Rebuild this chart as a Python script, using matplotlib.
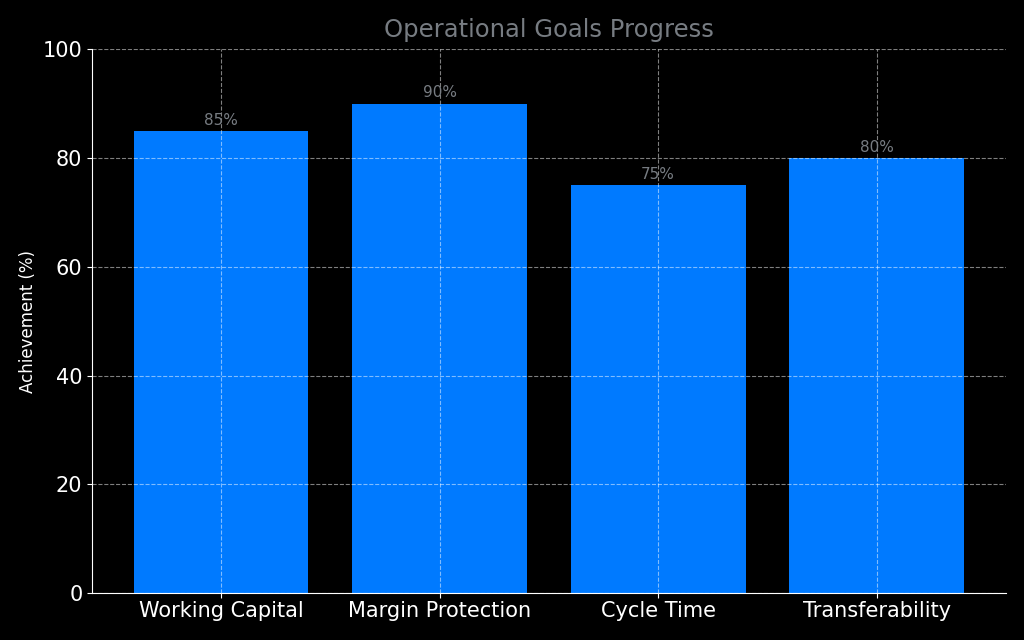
import matplotlib.pyplot as plt

categories = ['Working Capital', 'Margin Protection', 'Cycle Time', 'Transferability']
achievement = [85, 90, 75, 80]

plt.style.use('dark_background')
fig, ax = plt.subplots(figsize=(10.24, 6.4), dpi=100)
fig.subplots_adjust(left=0.09, right=0.982, top=0.923, bottom=0.073)

bars = ax.bar(categories, achievement, color='#007AFF', width=0.8)
for b, v in zip(bars, achievement):
    ax.text(b.get_x() + b.get_width() / 2, v + 0.6, f'{v}%', ha='center', va='bottom',
            color='#777c82', fontsize=11)

ax.set_ylim(0, 100)
ax.set_title('Operational Goals Progress', color='#777c82', fontsize=17.5, pad=9)
ax.set_ylabel('Achievement (%)', fontsize=12)
ax.tick_params(axis='both', labelsize=15)
ax.tick_params(axis='x', pad=2)
ax.spines['top'].set_visible(False)
ax.spines['right'].set_visible(False)
ax.set_axisbelow(False)
ax.grid(True, color='white', linestyle='--', linewidth=0.8, alpha=0.5)

fig.savefig('out.png', dpi=100)
